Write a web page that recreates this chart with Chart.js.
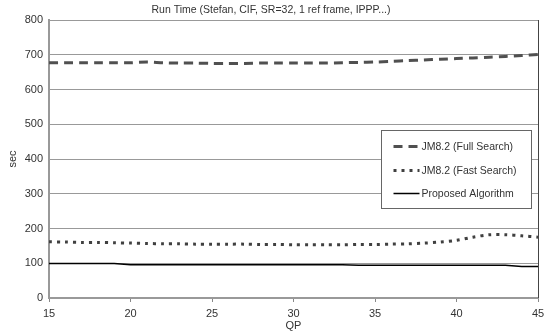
<!DOCTYPE html>
<html><head><meta charset="utf-8">
<script src="https://cdn.jsdelivr.net/npm/chart.js@4/dist/chart.umd.min.js"></script>
<style>html,body{margin:0;padding:0;background:#fff}#wrap{width:550px;height:333px}</style>
</head><body><div id="wrap"><canvas id="c" width="550" height="333"></canvas></div>
<script>
const qp = [15,16,17,18,19,20,21,22,23,24,25,26,27,28,29,30,31,32,33,34,35,36,37,38,39,40,41,42,43,44,45];
const fullSearch = [677,677,677,677,677,677,679,677,676,676,675,675,675,676,676,676,676,676,677,678,679,681,683,685,687,689,691,693,695,698,701];
const fastSearch = [162,161,160,160,159,158,157,156,156,155,155,155,155,154,154,153,153,153,153,154,154,155,156,158,161,166,175,182,182,179,175];
const proposed = [99,99,99,99,99,96,96,96,96,96,96,96,96,96,96,96,96,96,96,94,94,94,94,94,94,94,94,94,94,91,91];
const seriesNames = ["JM8.2 (Full Search)","JM8.2 (Fast Search)","Proposed Algorithm"];
const titleText = "Run Time (Stefan, CIF, SR=32, 1 ref frame, IPPP...)";
const yTicks = [0,100,200,300,400,500,600,700,800];
const xTicks = [15,20,25,30,35,40,45];

const pts = arr => qp.map((q,i)=>({x:q,y:arr[i]}));
const FONT = "'Liberation Sans', Arial, sans-serif";

const deco = {
  id:'deco',
  afterDraw(chart){
    const ctx = chart.ctx, a = chart.chartArea;
    ctx.save();
    ctx.fillStyle = '#333'; ctx.font = '10.5px ' + FONT;
    ctx.textAlign = 'center'; ctx.textBaseline = 'middle';
    ctx.fillText(titleText, 271, 10);
    ctx.strokeStyle = '#444'; ctx.lineWidth = 1;
    ctx.beginPath(); ctx.moveTo(Math.round(a.right)+0.5, a.top); ctx.lineTo(Math.round(a.right)+0.5, a.bottom); ctx.stroke();
    const lx = 381.5, ly = 130.5, lw = 150, lh = 78;
    ctx.fillStyle = '#fff'; ctx.fillRect(lx, ly, lw, lh);
    ctx.strokeStyle = '#666'; ctx.lineWidth = 1; ctx.strokeRect(lx, ly, lw, lh);
    const ds = chart.data.datasets;
    const rows = [ly+16, ly+40, ly+63];
    ds.forEach((d,i)=>{
      ctx.strokeStyle = d.borderColor; ctx.lineWidth = d.borderWidth;
      ctx.setLineDash(d.borderDash || []);
      ctx.beginPath(); ctx.moveTo(lx+12, rows[i]); ctx.lineTo(lx+38, rows[i]); ctx.stroke();
      ctx.setLineDash([]);
      ctx.fillStyle = '#333'; ctx.font = '10.5px ' + FONT; ctx.textAlign = 'left'; ctx.textBaseline='middle';
      ctx.fillText(d.label, lx+40, rows[i]+0.5);
    });
    ctx.restore();
  }
};

new Chart(document.getElementById('c'), {
  type:'line',
  data:{ datasets:[
    {label:seriesNames[0], data:pts(fullSearch), borderColor:'#505050', borderWidth:3, borderDash:[9,6], pointRadius:0, tension:0.3, fill:false},
    {label:seriesNames[1], data:pts(fastSearch), borderColor:'#404040', borderWidth:3, borderDash:[3,5], pointRadius:0, tension:0.3, fill:false},
    {label:seriesNames[2], data:pts(proposed), borderColor:'#000', borderWidth:1.5, pointRadius:0, tension:0, fill:false}
  ]},
  options:{
    responsive:false, animation:false,
    layout:{padding:{top:20,right:12,left:6,bottom:0}},
    plugins:{legend:{display:false}, title:{display:false}, tooltip:{enabled:false}},
    scales:{
      x:{type:'linear', min:15, max:45,
        afterBuildTicks(s){ s.ticks = xTicks.map(v=>({value:v})); },
        afterFit(s){ s.height = 35; },
        ticks:{font:{family:FONT,size:11}, color:'#333', padding:5, maxRotation:0},
        grid:{display:true, drawOnChartArea:false, drawTicks:true, tickLength:4, color:'#888'},
        border:{color:'#999', width:2},
        title:{display:true, text:'QP', font:{family:FONT,size:11}, color:'#333', padding:{top:0,bottom:0}}
      },
      y:{min:0, max:800,
        afterBuildTicks(s){ s.ticks = yTicks.map(v=>({value:v})); },
        afterFit(s){ s.width = 43; },
        ticks:{font:{family:FONT,size:11}, color:'#333', padding:6},
        grid:{color:'#999', lineWidth:1, drawTicks:false},
        border:{color:'#999', width:2},
        title:{display:true, text:'sec', font:{family:FONT,size:11}, color:'#333', padding:{top:0,bottom:2}}
      }
    }
  },
  plugins:[deco]
});
</script></body></html>
